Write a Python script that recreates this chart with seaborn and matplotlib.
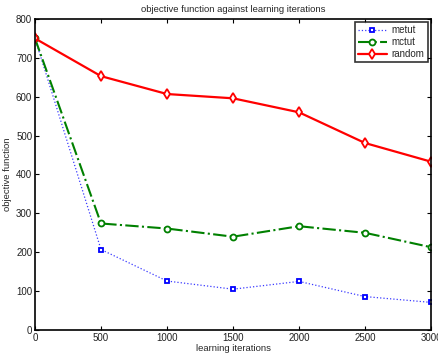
import matplotlib
matplotlib.use("Agg")
import matplotlib.pyplot as plt
import seaborn as sns

iterations = [0, 500, 1000, 1500, 2000, 2500, 3000]
metut = [750, 207, 126, 105, 125, 86, 71]
mctut = [750, 274, 261, 240, 267, 250, 213]
random_vals = [750, 653, 607, 596, 560, 481, 433]

sns.set_theme(style="white")
plt.rcParams["font.family"] = ["Liberation Sans", "DejaVu Sans"]

fig = plt.figure(figsize=(4.38, 3.58), dpi=100)
ax = fig.add_axes([35 / 438, 1 - 330 / 358, 396 / 438, 311 / 358])

sns.lineplot(x=iterations, y=metut, ax=ax, color="#3a3aff", linestyle=":",
             linewidth=0.9, marker="s", markersize=3.4, markeredgewidth=1.3,
             markerfacecolor="white", markeredgecolor="#0000ff", label="metut")
sns.lineplot(x=iterations, y=mctut, ax=ax, color="#008000", linestyle="-.",
             linewidth=1.5, marker="o", markersize=4.3, markeredgewidth=1.3,
             markerfacecolor="white", markeredgecolor="#008000", label="mctut")
sns.lineplot(x=iterations, y=random_vals, ax=ax, color="#ff0000", linestyle="-",
             linewidth=1.6, marker="d", markersize=5, markeredgewidth=1.3,
             markerfacecolor="white", markeredgecolor="#ff0000", label="random")

ax.set_xlim(0, 3000)
ax.set_ylim(0, 800)
ax.set_xticks(range(0, 3001, 500))
ax.set_yticks(range(0, 801, 100))

for s in ax.spines.values():
    s.set_visible(True)
    s.set_color("black")
    s.set_linewidth(1.2)

ax.tick_params(direction="in", length=3, width=0.8, labelsize=7,
               top=True, right=True, bottom=True, left=True, pad=2,
               colors="black", labelcolor="#222222")

ax.set_title("objective function against learning iterations", fontsize=6.8, pad=5)
ax.set_xlabel("learning iterations", fontsize=6.8, labelpad=1)
ax.set_ylabel("objective function", fontsize=6.8, labelpad=3)

leg = ax.legend(loc="upper right", fontsize=7, frameon=True, fancybox=False,
                borderaxespad=0.35, handlelength=3.0, handletextpad=0.5,
                labelspacing=0.2, borderpad=0.3)
leg.get_frame().set_edgecolor("black")
leg.get_frame().set_linewidth(1.2)

fig.savefig("out.png", dpi=100)
